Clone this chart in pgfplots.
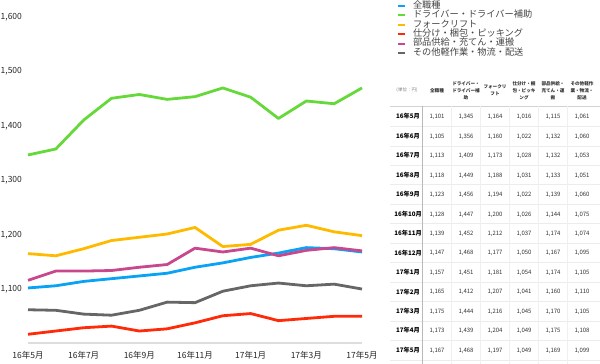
\documentclass[border=0pt]{standalone}
\usepackage{pgfplots}
\usepackage{pgfplotstable}
\pgfplotsset{compat=1.18}
\usepackage{fontspec}
\setmainfont{Noto Sans CJK JP}
\definecolor{cAll}{HTML}{0AA2F5}
\definecolor{cDrv}{HTML}{66D93A}
\definecolor{cFork}{HTML}{FFBA00}
\definecolor{cSort}{HTML}{FF2A08}
\definecolor{cParts}{HTML}{C8478D}
\definecolor{cOther}{HTML}{666666}
\definecolor{axisgray}{HTML}{DDDDDD}
\definecolor{legtext}{HTML}{444444}

\pgfplotstableread{
i all drv fork sort parts other
0 1101 1345 1164 1016 1115 1061
1 1105 1356 1160 1022 1132 1060
2 1113 1409 1173 1028 1132 1053
3 1118 1449 1188 1031 1133 1051
4 1123 1456 1194 1022 1139 1060
5 1128 1447 1200 1026 1144 1075
6 1139 1452 1212 1037 1174 1074
7 1147 1468 1177 1050 1167 1095
8 1157 1451 1181 1054 1174 1105
9 1165 1412 1207 1041 1160 1110
10 1175 1444 1216 1045 1170 1105
11 1173 1439 1204 1049 1175 1108
12 1167 1468 1197 1049 1169 1099
}\data

\begin{document}
\begin{tikzpicture}
\useasboundingbox (0,0) rectangle (600pt,364pt);
\begin{axis}[
  at={(28pt,21pt)}, anchor=south west,
  scale only axis, width=334pt, height=327pt,
  xmin=0, xmax=12, ymin=1000, ymax=1600,
  clip=false,
  separate axis lines,
  axis x line*=bottom, axis y line*=left,
  x axis line style={draw=axisgray, line width=1.6pt, -},
  y axis line style={draw=none, -},
  tick style={draw=none},
  xtick={0,2,...,12},
  xticklabels={16年5月,16年7月,16年9月,16年11月,17年1月,17年3月,17年5月},
  ytick={1100,1200,...,1600},
  /pgf/number format/assume math mode=true,
  /pgf/number format/1000 sep={,},
  ticklabel style={font=\fontsize{8.5}{10}\selectfont, text=black!85},
  yticklabel style={anchor=base west, inner sep=0pt, xshift=-27.5pt, yshift=-3.1pt},
  xticklabel style={anchor=base, inner sep=0pt, yshift=-15.2pt},
  legend style={
    at={(1.1048,1.045)}, anchor=north west, draw=none, fill=none,
    font=\fontsize{9.2}{9.2}\selectfont, text=legtext,
    inner sep=0pt, outer sep=0pt, row sep=0pt,
    nodes={inner sep=0pt, text height=6.9pt, text depth=2.55pt},
    /tikz/every odd column/.style={column sep=7pt},
  },
  legend image code/.code={\draw[#1, line width=2pt, line cap=butt] (0pt,0pt) -- (7pt,0pt);},
  legend cell align=left,
  every axis plot/.append style={line width=2.8pt, line join=round, mark=none},
]
\addplot[cAll] table[x=i, y=all] {\data};
\addlegendentry{全職種}
\addplot[cDrv] table[x=i, y=drv] {\data};
\addlegendentry{ドライバー・ドライバー補助}
\addplot[cFork] table[x=i, y=fork] {\data};
\addlegendentry{フォークリフト}
\addplot[cSort] table[x=i, y=sort] {\data};
\addlegendentry{仕分け・梱包・ピッキング}
\addplot[cParts] table[x=i, y=parts] {\data};
\addlegendentry{部品供給・充てん・運搬}
\addplot[cOther] table[x=i, y=other] {\data};
\addlegendentry{その他軽作業・物流・配送}
\end{axis}

% ---- table ----
\draw[gray!35, line width=0.6pt] (390pt,258pt) -- (600pt,258pt);
\foreach \r in {0,...,12} {
  \draw[gray!15, line width=0.5pt] (390pt,237.6pt-19.45pt*\r) -- (600pt,237.6pt-19.45pt*\r);
}
\foreach \xv in {451.5,480.5,509.5,538.5,567.5} {
  \draw[gray!12, line width=0.5pt] (\xv pt,258pt) -- (\xv pt,0pt);
}
\draw[gray!55, line width=1pt] (422pt,258pt) -- (422pt,0pt);

\node[font=\fontsize{4.5}{6}\selectfont, text=gray] at (407pt,273.5pt) {(単位：円)};
\foreach \h [count=\c from 0] in {{全職種},{ドライバー・\\ドライバー補\\助},{フォークリ\\フト},{仕分け・梱\\包・ピッキ\\ング},{部品供給・\\充てん・運\\搬},{その他軽作\\業・物流・\\配送}} {
  \node[font=\bfseries\fontsize{4.6}{7.2}\selectfont, text=black!80, align=center, inner sep=0pt] at (437pt+29pt*\c,273.5pt) {\h};
}

\foreach \lab [count=\r from 0] in {16年5月,16年6月,16年7月,16年8月,16年9月,16年10月,16年11月,16年12月,17年1月,17年2月,17年3月,17年4月,17年5月} {
  \node[font=\bfseries\fontsize{6.2}{7}\selectfont, anchor=base, inner sep=0pt] at (408pt,247.3pt-19.45pt*\r-2.3pt) {\lab};
  \foreach \col [count=\c from 0] in {all,drv,fork,sort,parts,other} {
    \pgfplotstablegetelem{\r}{\col}\of\data
    \node[font=\fontsize{6}{7}\selectfont, text=black!80, anchor=base, inner sep=0pt] at (437pt+29pt*\c,247.3pt-19.45pt*\r-2.1pt) {\pgfmathprintnumber[assume math mode=true,1000 sep={,}]{\pgfplotsretval}};
  }
}
\end{tikzpicture}
\end{document}
